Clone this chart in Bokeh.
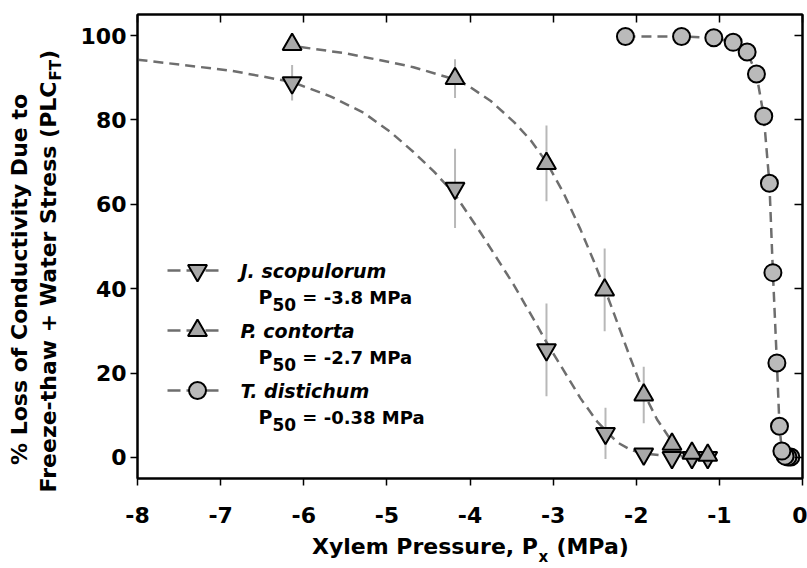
import math
from bokeh.plotting import figure
from bokeh.models import Range1d, FixedTicker, LinearAxis, Label
from bokeh.embed import file_html
from bokeh.resources import INLINE

# ---------------- data ----------------
x_ticks = [-8, -7, -6, -5, -4, -3, -2, -1, 0]
y_ticks = [0, 20, 40, 60, 80, 100]

j_px = [-6.14, -4.18, -3.08, -2.37, -1.91, -1.57, -1.33, -1.14]
j_plc = [88.8, 63.8, 25.5, 5.7, 0.8, 0.0, 0.0, 0.0]
j_err = [4.2, 9.4, 11.0, 6.1, 0.0, 0.0, 0.0, 0.0]

p_px = [-6.14, -4.18, -3.08, -2.38, -1.91, -1.57, -1.33, -1.14]
p_plc = [97.9, 89.8, 69.7, 39.7, 14.8, 3.1, 1.0, 0.5]
p_err = [0.0, 4.6, 9.0, 9.8, 6.7, 0.0, 0.0, 0.0]

t_px = [-2.13, -1.455, -1.067, -0.834, -0.666, -0.554, -0.466, -0.398,
        -0.356, -0.308, -0.277, -0.248, -0.21, -0.175, -0.14]
t_plc = [99.8, 99.8, 99.5, 98.4, 96.1, 90.9, 80.9, 65.0,
         43.8, 22.4, 7.4, 1.5, 0.3, 0.1, 0.1]

# fitted curves as drawn in the reference
j_curve_x = [-8.0, -6.88, -6.14, -5.68, -5.28, -4.96, -4.68, -4.43, -4.18,
             -3.87, -3.47, -3.23, -3.08, -2.87, -2.67, -2.47, -2.23, -2.07,
             -1.91, -1.6, -1.07]
j_curve_y = [94.3, 91.7, 89.0, 85.6, 81.7, 77.2, 72.4, 67.7, 62.3,
             53.2, 40.8, 32.6, 27.3, 20.5, 14.0, 8.5, 3.6, 1.8,
             0.9, 0.3, 0.1]

p_curve_x = [-6.04, -5.5, -4.96, -4.68, -4.18, -4.03, -3.75, -3.47, -3.27,
             -3.08, -2.87, -2.67, -2.51, -2.38, -2.27, -2.07, -1.91, -1.75,
             -1.59, -1.47, -1.3, -1.07]
p_curve_y = [97.3, 95.8, 93.7, 92.5, 89.6, 88.2, 84.5, 79.5, 75.2,
             70.0, 62.5, 54.0, 46.5, 40.0, 34.2, 23.5, 15.3, 9.0,
             4.3, 2.0, 0.7, 0.3]

species = ["J. scopulorum", "P. contorta", "T. distichum"]
p50_text = ["= -3.8 MPa", "= -2.7 MPa", "= -0.38 MPa"]

XMIN, XMAX, YMIN, YMAX = -8, 0, -5, 105

# ---------------- style ----------------
FONT = "DejaVu Sans"
LINE_C = "#6e6e6e"
DASH = "10 6"
TRI_FILL = "#a8a8a8"
CIR_FILL = "#bababa"
ERR_C = "#b8b8b8"

# frame in picture pixels: left 137, right 802, top 14, bottom 478
FL, FR, FT_, FB = 137, 802, 14, 478
ASC, DESC = 0.928, 0.236   # font box metrics (em)


def px2x(X):
    return XMIN + (X - FL) / (FR - FL) * (XMAX - XMIN)


def px2y(Y):
    return YMIN + (FB - Y) / (FB - FT_) * (YMAX - YMIN)


W = {' ': .348, '(': .457, ')': .457, '+': .838, ',': .380, '-': .415, '.': .380,
     '=': .838, '%': 1.002, 'A': .774, 'C': .734, 'D': .830, 'F': .683, 'J': .372,
     'L': .637, 'M': .995, 'P': .733, 'S': .720, 'T': .682, 'W': 1.103, 'X': .774,
     'a': .675, 'c': .593, 'd': .716, 'e': .678, 'f': .435, 'h': .712, 'i': .343,
     'l': .343, 'm': 1.042, 'n': .712, 'o': .687, 'p': .716, 'r': .493, 's': .595,
     't': .478, 'u': .712, 'v': .652, 'w': .924, 'y': .652, 'z': .582}


def twidth(s, size):
    return sum(W.get(c, .696) for c in s) * size


p = figure(width=807, height=568, output_backend="svg", toolbar_location=None,
           x_range=Range1d(XMIN, XMAX), y_range=Range1d(YMIN, YMAX),
           min_border_left=FL, min_border_right=807 - FR, min_border_top=FT_,
           min_border_bottom=568 - FB)
p.grid.visible = False
p.outline_line_color = "black"
p.outline_line_width = 2
p.background_fill_color = "white"
p.border_fill_color = "white"

TICK = 22
X_STANDOFF, Y_STANDOFF = 21, 4
for ax in (p.xaxis[0], p.yaxis[0]):
    ax.axis_line_width = 2
    ax.major_tick_line_width = 1.5
    ax.major_tick_out = 7
    ax.major_tick_in = 0
    ax.minor_tick_line_color = None
    ax.major_label_text_font = FONT
    ax.major_label_text_font_style = "bold"
    ax.major_label_text_font_size = f"{TICK}px"
    ax.major_label_text_color = "black"
p.xaxis[0].ticker = FixedTicker(ticks=x_ticks)
p.xaxis[0].major_label_overrides = {t: str(t) for t in x_ticks}
p.yaxis[0].ticker = FixedTicker(ticks=y_ticks)
p.yaxis[0].major_label_overrides = {t: str(t) for t in y_ticks}
p.xaxis[0].major_label_standoff = X_STANDOFF
p.yaxis[0].major_label_standoff = Y_STANDOFF

top = LinearAxis(ticker=FixedTicker(ticks=x_ticks))
right = LinearAxis(ticker=FixedTicker(ticks=y_ticks))
for ax in (top, right):
    ax.axis_line_width = 2
    ax.major_tick_line_width = 1.5
    ax.major_tick_in = 8
    ax.major_tick_out = 0
    ax.minor_tick_line_color = None
    ax.major_label_text_font_size = "0px"
    ax.major_label_standoff = 0
    ax.major_label_text_color = None
p.add_layout(top, "above")
p.add_layout(right, "right")

# ---------------- error bars ----------------
for xs, ys, es in ((j_px, j_plc, j_err), (p_px, p_plc, p_err)):
    sx = [x for x, e in zip(xs, es) if e > 0]
    y0 = [y - e for y, e in zip(ys, es) if e > 0]
    y1 = [y + e for y, e in zip(ys, es) if e > 0]
    p.segment(x0=sx, y0=y0, x1=sx, y1=y1, line_color=ERR_C, line_width=2)

# ---------------- curves ----------------
p.line(j_curve_x, j_curve_y, line_color=LINE_C, line_width=2.5, line_dash=DASH)
p.line(p_curve_x, p_curve_y, line_color=LINE_C, line_width=2.5, line_dash=DASH)
p.line(t_px, t_plc, line_color=LINE_C, line_width=2.5, line_dash=DASH)

# ---------------- markers ----------------
p.scatter(j_px, j_plc, marker="inverted_triangle", size=19, fill_color=TRI_FILL,
          line_color="black", line_width=2)
p.scatter(p_px, p_plc, marker="triangle", size=19, fill_color=TRI_FILL,
          line_color="black", line_width=2)
p.scatter(t_px[::-1], t_plc[::-1], marker="circle", size=17, fill_color=CIR_FILL,
          line_color="black", line_width=2)


# ---------------- legend (custom) ----------------
def lab(x, y, text, size, style="bold"):
    p.add_layout(Label(x=px2x(x), y=px2y(y), text=text, text_font=FONT,
                       text_font_style=style, text_font_size=f"{size}px",
                       text_color="black", text_align="left",
                       text_baseline="middle"))


markers = [("inverted_triangle", 19, TRI_FILL), ("triangle", 19, TRI_FILL),
           ("circle", 17, CIR_FILL)]
row_y = [270, 330, 390]
for i, (name, (mk, sz, fc)) in enumerate(zip(species, markers)):
    yy = row_y[i]
    p.line([px2x(167), px2x(219)], [px2y(yy), px2y(yy)], line_color=LINE_C,
           line_width=2.5, line_dash="13 6")
    p.scatter([px2x(197)], [px2y(yy)], marker=mk, size=sz, fill_color=fc,
              line_color="black", line_width=2)
    lab(240, yy, name, 19, "bold italic")
    y2 = yy + 26.5
    x0 = 258
    lab(x0, y2, "P", 19)
    x0 += twidth("P", 19)
    lab(x0, y2 + 7, "50", 17)
    x0 += twidth("50", 17) + twidth(" ", 18)
    lab(x0, y2, p50_text[i], 18)


# ---------------- axis titles: label-only axes stacked in the side panels ----------------
def text_axis(side, standoff, items, size):
    ticks = [round(c, 3) for c, _ in items]
    ax = LinearAxis(ticker=FixedTicker(ticks=ticks),
                    major_label_overrides={t: s for t, (_, s) in zip(ticks, items)})
    ax.axis_line_color = None
    ax.major_tick_line_color = None
    ax.minor_tick_line_color = None
    ax.major_tick_out = 0
    ax.major_tick_in = 0
    ax.major_label_standoff = int(round(standoff))
    ax.major_label_text_font = FONT
    ax.major_label_text_font_style = "bold"
    ax.major_label_text_font_size = f"{size}px"
    ax.major_label_text_color = "black"
    if side == "left":
        ax.major_label_orientation = "parallel"
    p.add_layout(ax, side)
    return int(round(standoff)) + (ASC + DESC) * size   # slot size


TS, SS = 22, 15

# --- x title (below panel) ---
edge = FB + 7 + X_STANDOFF + (ASC + DESC) * TICK          # outer edge of the x axis slot
r1, r2, r3 = "Xylem Pressure, P", "x", "(MPa)"
w1, w2, wsp, w3 = twidth(r1, TS), twidth(r2, SS), twidth(" ", TS), twidth(r3, TS)
xs0 = 470 - (w1 + w2 + wsp + w3) / 2
c1, c2, c3 = xs0 + w1 / 2, xs0 + w1 + w2 / 2, xs0 + w1 + w2 + wsp + w3 / 2
base_main, base_sub = 560, 565
top_main = base_main - ASC * TS
edge += text_axis("below", top_main - edge, [(px2x(c1), r1), (px2x(c3), r3)], TS)
top_sub = base_sub - ASC * SS
edge += text_axis("below", top_sub - edge, [(px2x(c2), r2)], SS)

# --- y title (left panel): baselines in x pixels, rotated text ---
edge = FL - 7 - Y_STANDOFF - twidth("100", TICK)            # outer edge of the y axis slot
q1, q2, q3 = "Freeze-thaw + Water Stress (PLC", "FT", ")"
v1, v2, v3 = twidth(q1, TS), twidth(q2, SS), twidth(q3, TS)
ybot = 493
d1, d2, d3 = ybot - v1 / 2, ybot - v1 - v2 / 2, ybot - v1 - v2 - v3 / 2
base_l1, base_l2, base_sub_y = 36, 62, 65
r_sub = base_sub_y + DESC * SS
edge -= text_axis("left", edge - r_sub, [(px2y(d2), q2)], SS)
r_l2 = base_l2 + DESC * TS
edge -= text_axis("left", edge - r_l2, [(px2y(d1), q1), (px2y(d3), q3)], TS)
r_l1 = base_l1 + DESC * TS
edge -= text_axis("left", edge - r_l1, [(px2y(279), "% Loss of Conductivity Due to")], TS)

open("out.html", "w").write(file_html(p, INLINE))
